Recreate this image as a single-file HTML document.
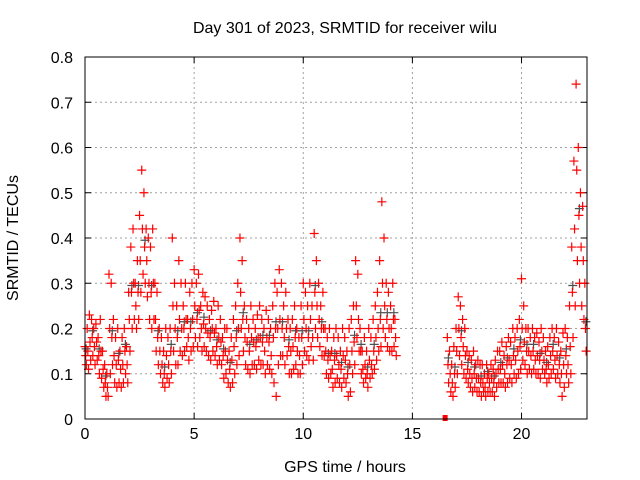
<!DOCTYPE html>
<html><head><meta charset="utf-8"><style>
body{margin:0;background:#fff}
svg{display:block;font-family:"Liberation Sans",sans-serif}
</style></head><body>
<svg id="chart" width="640" height="480" viewBox="0 0 640 480" xmlns="http://www.w3.org/2000/svg">
<rect width="640" height="480" fill="#fff"/>
<text x="345" y="33" font-size="16" text-anchor="middle">Day 301 of 2023, SRMTID for receiver wilu</text>
<text transform="translate(18,238) rotate(-90)" font-size="16" text-anchor="middle">SRMTID / TECUs</text>
<text x="345" y="472" font-size="16" text-anchor="middle">GPS time / hours</text>
<g id="grid"></g><g id="ticks"></g><g id="gray"></g><g id="red"></g>
<rect x="85" y="57" width="502" height="362" fill="none" stroke="#000" stroke-width="1"/>
</svg>
<script>
const xTicks=[0,5,10,15,20];
const yTicks=[0,0.1,0.2,0.3,0.4,0.5,0.6,0.7,0.8];
const yTickLabels=["0","0.1","0.2","0.3","0.4","0.5","0.6","0.7","0.8"];
const seg1Start=0, seg2Start=16.6, step=0.1;
const hi1=[.16,.2,.23,.22,.2,.21,.18,.22,.15,.12,.1,.32,.3,.22,.18,.2,.15,.18,.2,.16,.28,.38,.42,.3,.35,.45,.55,.5,.42,.4,.38,.42,.3,.28,.2,.18,.15,.2,.18,.2,.4,.3,.25,.35,.3,.25,.3,.22,.28,.3,.33,.3,.32,.25,.28,.27,.25,.22,.24,.26,.2,.25,.22,.18,.2,.2,.15,.18,.22,.25,.3,.4,.35,.25,.22,.2,.25,.22,.2,.23,.25,.22,.2,.24,.22,.2,.25,.3,.28,.33,.3,.25,.28,.22,.2,.22,.25,.2,.18,.25,.3,.28,.25,.3,.25,.41,.35,.3,.25,.28,.2,.18,.2,.15,.18,.2,.18,.15,.2,.18,.15,.2,.22,.25,.35,.32,.2,.15,.18,.15,.2,.18,.22,.25,.28,.35,.48,.4,.3,.28,.25,.3,.22];
const mid1=[.14,.15,.17,.18,.16,.17,.14,.15,.11,.08,.07,.2,.18,.14,.12,.13,.11,.12,.15,.12,.22,.28,.3,.25,.28,.35,.42,.38,.35,.3,.28,.3,.22,.18,.15,.12,.1,.14,.12,.15,.25,.2,.18,.22,.2,.2,.22,.18,.2,.22,.25,.22,.24,.2,.21,.2,.19,.18,.2,.19,.16,.18,.17,.14,.15,.13,.11,.13,.16,.18,.2,.28,.22,.18,.17,.15,.18,.17,.16,.18,.18,.17,.15,.18,.17,.14,.18,.2,.2,.22,.2,.18,.2,.16,.15,.16,.18,.15,.14,.18,.22,.2,.18,.22,.18,.28,.25,.22,.2,.2,.15,.13,.14,.11,.13,.14,.12,.11,.14,.13,.1,.12,.15,.17,.25,.22,.15,.11,.12,.1,.13,.12,.15,.18,.2,.22,.3,.25,.22,.2,.2,.22,.18];
const lo1=[.12,.11,.13,.14,.12,.13,.1,.09,.07,.05,.05,.1,.12,.08,.07,.08,.07,.08,.1,.08,.15,.2,.22,.2,.22,.28,.32,.3,.27,.22,.2,.22,.15,.12,.1,.08,.07,.09,.08,.1,.15,.12,.12,.15,.14,.15,.16,.13,.15,.16,.18,.16,.18,.15,.16,.15,.14,.13,.15,.14,.12,.13,.12,.09,.1,.08,.07,.08,.1,.12,.14,.2,.15,.12,.11,.1,.12,.12,.11,.13,.12,.12,.1,.12,.11,.1,.08,.05,.12,.14,.14,.12,.14,.1,.1,.11,.12,.1,.1,.12,.15,.14,.13,.16,.13,.2,.18,.16,.14,.14,.1,.09,.1,.07,.08,.09,.08,.07,.09,.08,.05,.06,.1,.12,.18,.15,.1,.08,.09,.07,.09,.1,.11,.13,.15,.16,.2,.18,.16,.15,.15,.16,.14];
const hi2=[.18,.15,.12,.16,.2,.27,.25,.22,.2,.15,.14,.13,.15,.12,.13,.12,.12,.1,.12,.1,.12,.11,.13,.15,.15,.17,.14,.16,.18,.17,.2,.18,.2,.22,.31,.25,.2,.2,.18,.2,.18,.19,.17,.2,.18,.15,.16,.18,.2,.18,.2,.17,.15,.19,.2,.18,.25,.38,.57,.74,.6,.5,.47,.3];
const mid2=[.12,.1,.08,.1,.15,.2,.18,.16,.14,.11,.1,.09,.1,.09,.09,.08,.08,.07,.09,.08,.09,.08,.1,.11,.11,.12,.1,.12,.13,.12,.14,.13,.15,.16,.2,.17,.15,.15,.14,.15,.13,.14,.13,.15,.13,.11,.12,.14,.15,.13,.14,.12,.1,.12,.14,.12,.16,.28,.42,.55,.45,.38,.35,.2];
const lo2=[.08,.06,.05,.07,.1,.14,.12,.1,.09,.08,.07,.06,.07,.06,.06,.05,.06,.05,.06,.06,.06,.05,.07,.08,.08,.08,.07,.08,.09,.08,.1,.09,.1,.11,.13,.12,.1,.11,.1,.11,.1,.1,.09,.11,.1,.08,.09,.1,.11,.09,.1,.08,.05,.07,.1,.08,.1,.18,.25,.35,.3,.25,.22,.15];
const extraX=[16.5]; const extraY=[0];

const NS="http://www.w3.org/2000/svg";
const X0=85,X1=587,Y0=419,Y1=57,xMin=0,xMax=23,yMin=0,yMax=0.8;
function sx(v){return X0+(v-xMin)/(xMax-xMin)*(X1-X0);}
function sy(v){return Y0-(v-yMin)/(yMax-yMin)*(Y0-Y1);}
function mk(tag,attrs,parent){const e=document.createElementNS(NS,tag);for(const k in attrs)e.setAttribute(k,attrs[k]);parent.appendChild(e);return e;}
const grid=document.getElementById('grid'),ticks=document.getElementById('ticks');
xTicks.forEach(t=>{const x=sx(t);
 if(t>xMin){const g=mk('line',{x1:x,x2:x,y1:Y1,y2:Y0,stroke:'#a0a0a0','stroke-dasharray':'2,3'},grid);
 
 }
 mk('line',{x1:x,x2:x,y1:Y0,y2:Y0-6,stroke:'#000'},ticks);
 mk('line',{x1:x,x2:x,y1:Y1,y2:Y1+6,stroke:'#000'},ticks);
 const l=mk('text',{x:x,y:Y0+20,'font-size':16,'text-anchor':'middle'},ticks);l.textContent=t;
 
 });
yTicks.forEach((t,i)=>{const y=sy(t);
 if(t>yMin&&t<yMax){const g=mk('line',{x1:X0,x2:X1,y1:y,y2:y,stroke:'#a0a0a0','stroke-dasharray':'2,3'},grid);
 
 }
 mk('line',{x1:X0,x2:X0+6,y1:y,y2:y,stroke:'#000'},ticks);
 mk('line',{x1:X1,x2:X1-6,y1:y,y2:y,stroke:'#000'},ticks);
 const l=mk('text',{x:X0-12,y:y+6,'font-size':16,'text-anchor':'end'},ticks);l.textContent=yTickLabels[i];
 
 });
function plus(g,t,v,color){const x=sx(t),y=sy(v);
 const p=mk('path',{d:`M${x-4.5},${y}h9M${x},${y-4.5}v9`,stroke:color,'stroke-width':1.2,fill:'none'},g);
 
 }
const gray=document.getElementById('gray'),red=document.getElementById('red');
[[seg1Start,mid1],[seg2Start,mid2]].forEach(([s,arr])=>arr.forEach((v,i)=>{if(i%3===0)plus(gray,s+i*step+0.05,v+0.015,'#505050');}));
[[seg1Start,hi1,0],[seg1Start,mid1,0.03],[seg1Start,lo1,0.06],[seg2Start,hi2,0],[seg2Start,mid2,0.03],[seg2Start,lo2,0.06]].forEach(([s,arr,o])=>arr.forEach((v,i)=>plus(red,s+i*step+o,v,'#ff0000')));
extraX.forEach((t,i)=>{const r=mk('rect',{x:sx(t)-2.5,y:sy(extraY[i])-4,width:5,height:6,fill:'#ff0000'},red);
 
 });
</script>
</body></html>
